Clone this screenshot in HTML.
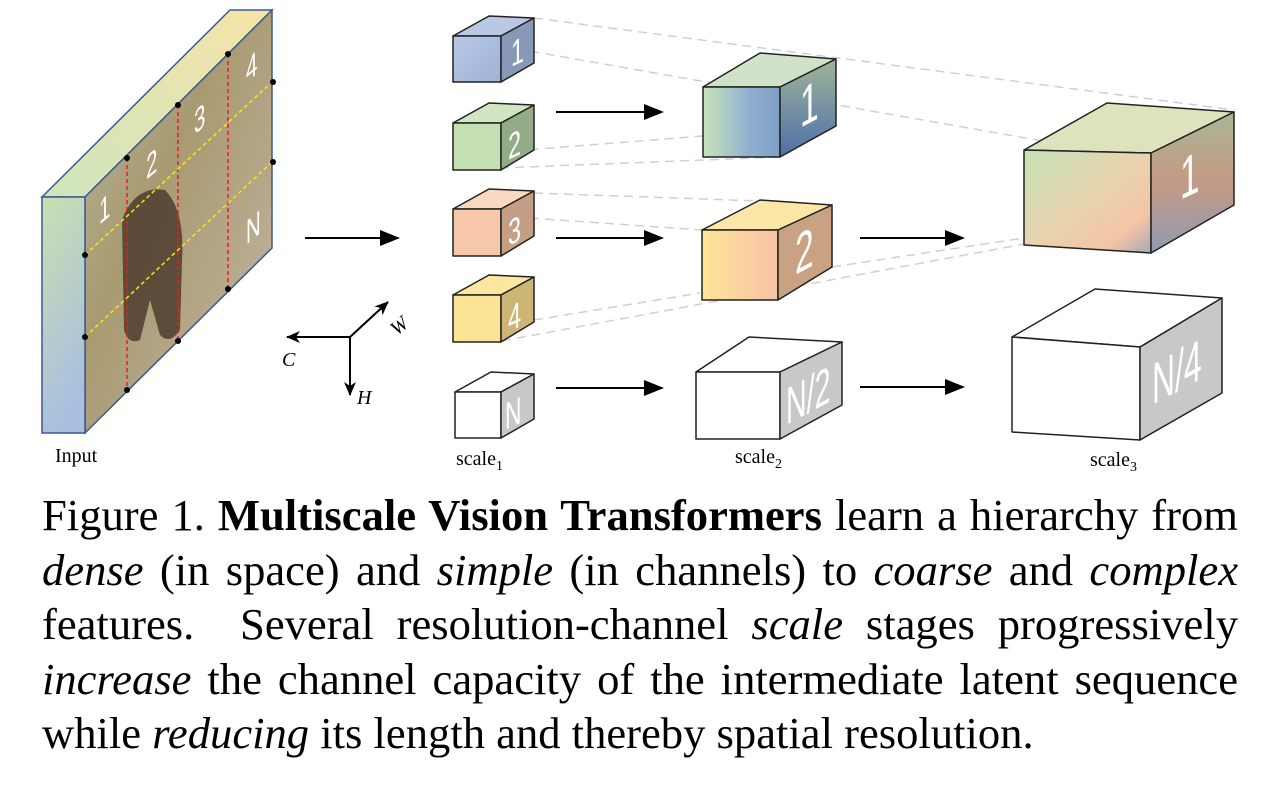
<!DOCTYPE html>
<html><head><meta charset="utf-8"><style>
html,body{margin:0;padding:0;background:#fff;width:1271px;height:789px;overflow:hidden}
.cap{position:absolute;left:42px;top:488px;width:1196px;font-family:"Liberation Serif",serif;font-size:44.6px;color:#000}
.cap div{text-align:justify;text-align-last:justify;height:54.5px;line-height:54.5px;white-space:nowrap}
.cap div.last{text-align-last:left}
</style></head><body>
<svg width="1271" height="789" style="position:absolute;left:0;top:0" xmlns="http://www.w3.org/2000/svg" font-family="Liberation Serif, serif">
<defs>
<linearGradient id="side" x1="0" y1="0" x2="0.3" y2="1"><stop offset="0" stop-color="#c9e0b0"/><stop offset="1" stop-color="#a9bfe0"/></linearGradient>
<linearGradient id="topg" x1="0" y1="1" x2="1" y2="0"><stop offset="0" stop-color="#cfe5bd"/><stop offset="1" stop-color="#f6e4a8"/></linearGradient>
<linearGradient id="img" x1="0" y1="0" x2="1" y2="1"><stop offset="0" stop-color="#b9b6a0"/><stop offset="0.4" stop-color="#a89a70"/><stop offset="0.7" stop-color="#b7a88c"/><stop offset="1" stop-color="#c9bca6"/></linearGradient>
<linearGradient id="c1" x1="0" y1="0" x2="1" y2="1"><stop offset="0" stop-color="#b8c8e6"/><stop offset="1" stop-color="#9fb3d8"/></linearGradient>
<linearGradient id="s2a" x1="0" y1="0" x2="1" y2="0"><stop offset="0" stop-color="#c8e3b8"/><stop offset="0.6" stop-color="#8fb0d0"/><stop offset="1" stop-color="#7f9fc6"/></linearGradient>
<linearGradient id="s2ar" x1="0" y1="0" x2="0" y2="1"><stop offset="0" stop-color="#9fb59a"/><stop offset="1" stop-color="#4e6fa8"/></linearGradient>
<linearGradient id="s2b" x1="0" y1="0" x2="1" y2="0"><stop offset="0" stop-color="#fde596"/><stop offset="0.5" stop-color="#fcd3a0"/><stop offset="1" stop-color="#f6c2a5"/></linearGradient>
<linearGradient id="s3f" x1="0" y1="0" x2="1" y2="1"><stop offset="0" stop-color="#c6e3b6"/><stop offset="0.5" stop-color="#e8d3ae"/><stop offset="0.8" stop-color="#f5c3a6"/><stop offset="1" stop-color="#a6a9b8"/></linearGradient>
<linearGradient id="s3r" x1="0" y1="0" x2="0" y2="1"><stop offset="0" stop-color="#aab596"/><stop offset="0.5" stop-color="#c49a85"/><stop offset="1" stop-color="#8f9ab0"/></linearGradient>
<marker id="ah" markerWidth="20" markerHeight="16" refX="18" refY="8" orient="auto" markerUnits="userSpaceOnUse" viewBox="0 0 20 16"><path d="M0,0 L20,8 L0,16 z" fill="#000"/></marker>
<marker id="ah2" markerWidth="14" markerHeight="12" refX="13" refY="6" orient="auto" markerUnits="userSpaceOnUse" viewBox="0 0 14 12"><path d="M0,0 L14,6 L0,12 L4,6 z" fill="#000"/></marker>
</defs>
<polygon points="42,197 85,197 272,10 230,10" fill="url(#topg)" stroke="#3b5a8e" stroke-width="1.5"/>
<polygon points="85,197 272,10 272,248 85,433" fill="url(#img)" stroke="#3b5a8e" stroke-width="1.5"/>
<path d="M122,220 Q135,185 165,190 Q185,210 182,260 L180,330 Q170,345 160,335 L150,300 L140,340 Q128,345 124,330 Z" fill="#4e3d2e" opacity="0.85"/>
<rect x="42" y="197" width="43" height="236" fill="url(#side)" stroke="#3b5a8e" stroke-width="1.5"/>
<g stroke="#e52020" stroke-width="1.5" stroke-dasharray="4,3">
<line x1="127" y1="158" x2="127" y2="390"/><line x1="178" y1="105" x2="178" y2="341"/><line x1="228" y1="54" x2="228" y2="289"/></g>
<g stroke="#f2ea10" stroke-width="1.5" stroke-dasharray="4,3">
<line x1="85" y1="255" x2="272" y2="82"/><line x1="85" y1="337" x2="272" y2="162"/></g>
<g fill="#000"><circle cx="127" cy="158" r="3"/><circle cx="127" cy="390" r="3"/><circle cx="178" cy="105" r="3"/><circle cx="178" cy="341" r="3"/><circle cx="228" cy="54" r="3"/><circle cx="228" cy="289" r="3"/><circle cx="85" cy="255" r="3"/><circle cx="85" cy="337" r="3"/><circle cx="273" cy="82" r="3"/><circle cx="273" cy="162" r="3"/></g>
<g fill="#fff" font-family="Liberation Sans, sans-serif" font-size="34">
<text transform="translate(99,225) skewY(-40) scale(0.6,1)">1</text>
<text transform="translate(146,180) skewY(-40) scale(0.6,1)">2</text>
<text transform="translate(194,135) skewY(-40) scale(0.6,1)">3</text>
<text transform="translate(246,83) skewY(-40) scale(0.6,1)">4</text>
<text transform="translate(246,245) skewY(-40) scale(0.6,1)">N</text></g>
<text x="55" y="462" font-size="20">Input</text>
<g stroke="#000" stroke-width="2" marker-end="url(#ah)">
<line x1="305" y1="238" x2="398" y2="238"/>
<line x1="556" y1="112" x2="662" y2="112"/><line x1="556" y1="238" x2="662" y2="238"/><line x1="556" y1="388" x2="662" y2="388"/>
<line x1="860" y1="238" x2="963" y2="238"/><line x1="860" y1="387" x2="963" y2="387"/></g>
<g stroke="#000" stroke-width="2" marker-end="url(#ah2)">
<line x1="350" y1="337" x2="287" y2="337"/><line x1="350" y1="337" x2="350" y2="395"/><line x1="350" y1="337" x2="388" y2="302"/></g>
<g font-style="italic" font-size="20"><text x="282" y="366">C</text><text x="357" y="404">H</text><text x="390" y="333" transform="rotate(-40 398 325)">W</text></g>
<g stroke="#d0d0d0" stroke-width="1.5" stroke-dasharray="9,6" fill="none">
<line x1="534" y1="18" x2="1234" y2="110"/><line x1="501" y1="46" x2="1151" y2="160"/>
<line x1="500" y1="152" x2="703" y2="136"/><line x1="500" y1="168" x2="780" y2="157"/>
<line x1="534" y1="193" x2="760" y2="201"/><line x1="500" y1="216" x2="702" y2="230"/>
<line x1="534" y1="320" x2="700" y2="293"/><line x1="502" y1="341" x2="1234" y2="205"/>
<line x1="832" y1="267" x2="1024" y2="238"/></g>
<g stroke="#222" stroke-width="1.5" stroke-linejoin="round">
<polygon points="453,36 489,16 534,18 501,36" fill="#b9c9e5"/><rect x="453" y="36" width="48" height="46" fill="url(#c1)"/><polygon points="501,36 534,18 534,63 501,82" fill="#8898b8"/>
<polygon points="453,123 489,103 534,105 501,123" fill="#cfe6c0"/><rect x="453" y="123" width="48" height="47" fill="#c4e0b2"/><polygon points="501,123 534,105 534,150 501,170" fill="#93ab86"/>
<polygon points="453,209 489,189 534,191 501,209" fill="#f9d8c2"/><rect x="453" y="209" width="48" height="47" fill="#f7c7aa"/><polygon points="501,209 534,191 534,236 501,256" fill="#c59e86"/>
<polygon points="453,295 489,275 534,277 501,295" fill="#fde7a0"/><rect x="453" y="295" width="48" height="47" fill="#fde396"/><polygon points="501,295 534,277 534,322 501,342" fill="#cdb575"/>
<polygon points="455,392 491,372 534,374 501,392" fill="#fff"/><rect x="455" y="392" width="46" height="46" fill="#fff"/><polygon points="501,392 534,374 534,419 501,438" fill="#c8c8c8"/>
<polygon points="703,87 760,53 836,59 780,87" fill="#d0e3c8"/><rect x="703" y="87" width="77" height="70" fill="url(#s2a)"/><polygon points="780,87 836,59 836,126 780,157" fill="url(#s2ar)"/>
<polygon points="702,230 760,200 832,205 778,230" fill="#fde7a8"/><rect x="702" y="230" width="76" height="70" fill="url(#s2b)"/><polygon points="778,230 832,205 832,267 778,300" fill="#c9a283"/>
<polygon points="696,372 749,337 842,342 780,372" fill="#fff"/><rect x="696" y="372" width="84" height="67" fill="#fff"/><polygon points="780,372 842,342 842,405 780,439" fill="#c8c8c8"/>
<polygon points="1024,150 1107,103 1234,112 1151,153" fill="#dfe3bd"/><polygon points="1024,150 1151,153 1151,253 1024,245" fill="url(#s3f)"/><polygon points="1151,153 1234,112 1234,205 1151,253" fill="url(#s3r)"/>
<polygon points="1012,337 1095,289 1222,298 1140,347" fill="#fff"/><polygon points="1012,337 1140,347 1140,440 1012,432" fill="#fff"/><polygon points="1140,347 1222,298 1222,393 1140,440" fill="#c8c8c8"/>
</g>
<g fill="#fff" font-family="Liberation Sans, sans-serif">
<text transform="translate(511,67) skewY(-25) scale(0.65,1)" font-size="36">1</text>
<text transform="translate(508,160) skewY(-25) scale(0.65,1)" font-size="36">2</text>
<text transform="translate(508,246) skewY(-25) scale(0.65,1)" font-size="36">3</text>
<text transform="translate(508,332) skewY(-25) scale(0.65,1)" font-size="36">4</text>
<text transform="translate(505,430) skewY(-25) scale(0.6,1)" font-size="38">N</text>
<text transform="translate(800,128) skewY(-28) scale(0.6,1)" font-size="56">1</text>
<text transform="translate(795,275) skewY(-28) scale(0.6,1)" font-size="56">2</text>
<text transform="translate(786,425) skewY(-28) scale(0.55,1)" font-size="52">N/2</text>
<text transform="translate(1180,200) skewY(-25) scale(0.6,1)" font-size="58">1</text>
<text transform="translate(1152,405) skewY(-28) scale(0.55,1)" font-size="58">N/4</text></g>
<g font-size="20"><text x="456" y="465">scale<tspan font-size="14" dy="5">1</tspan></text>
<text x="735" y="463">scale<tspan font-size="14" dy="5">2</tspan></text>
<text x="1090" y="466">scale<tspan font-size="14" dy="5">3</tspan></text></g>
</svg>
<div class="cap">
<div>Figure 1. <b>Multiscale Vision Transformers</b> learn a hierarchy from</div>
<div><i>dense</i> (in space) and <i>simple</i> (in channels) to <i>coarse</i> and <i>complex</i></div>
<div>features.&nbsp; Several resolution-channel <i>scale</i> stages progressively</div>
<div><i>increase</i> the channel capacity of the intermediate latent sequence</div>
<div class="last">while <i>reducing</i> its length and thereby spatial resolution.</div>
</div>
</body></html>
